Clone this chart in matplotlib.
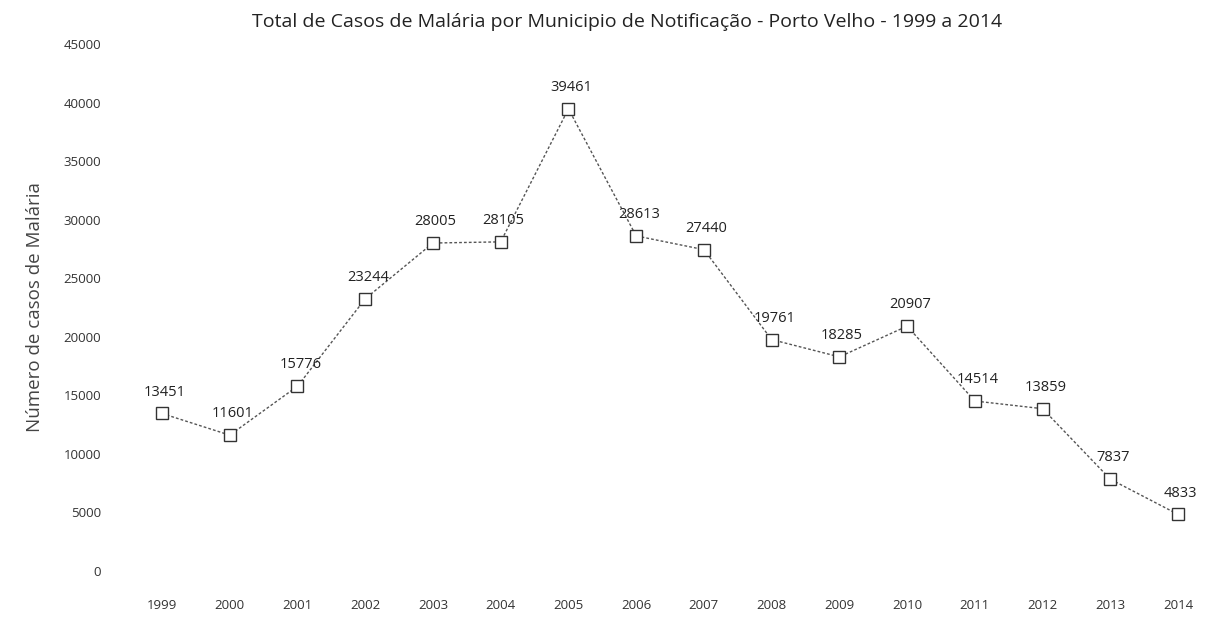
import matplotlib.pyplot as plt
import numpy as np

plt.rcParams['font.family'] = ['Open Sans', 'DejaVu Sans']

anos = [str(a) for a in range(1999, 2015)]
casos = [13451, 11601, 15776, 23244, 28005, 28105, 39461, 28613,
         27440, 19761, 18285, 20907, 14514, 13859, 7837, 4833]

fig = plt.figure(figsize=(12.05, 6.33), dpi=100)
ax = fig.add_axes([140 / 1205, 62 / 633, 1055 / 1205, 527 / 633])

x = np.arange(len(anos))
ax.plot(x, casos, color='#555555', linestyle=(0, (2, 1.5)), linewidth=1.0,
        marker='s', markersize=8.5, markerfacecolor='white',
        markeredgecolor='#333333', markeredgewidth=1.0)

for xi, v in zip(x, casos):
    ax.annotate(str(v), (xi, v), xytext=(2, 10), textcoords='offset points',
                ha='center', va='bottom', fontsize=10.5, color='#222222')

ax.set_xlim(-0.325, 15.25)
ax.set_ylim(0, 45000)
ax.set_yticks(np.arange(0, 45001, 5000))
ax.set_xticks(x)
ax.set_xticklabels(anos)
ax.tick_params(length=0, labelsize=9.5, colors='#333333')
ax.tick_params(axis='x', pad=20)
ax.tick_params(axis='y', pad=28)
for s in ax.spines.values():
    s.set_visible(False)

ax.set_ylabel('Número de casos de Malária', fontsize=13.5, color='#444444', labelpad=14)
fig.text(0.52, 0.965, 'Total de Casos de Malária por Municipio de Notificação - Porto Velho - 1999 a 2014',
         ha='center', va='center', fontsize=14, color='#222222')

fig.savefig('out.png', dpi=100)
